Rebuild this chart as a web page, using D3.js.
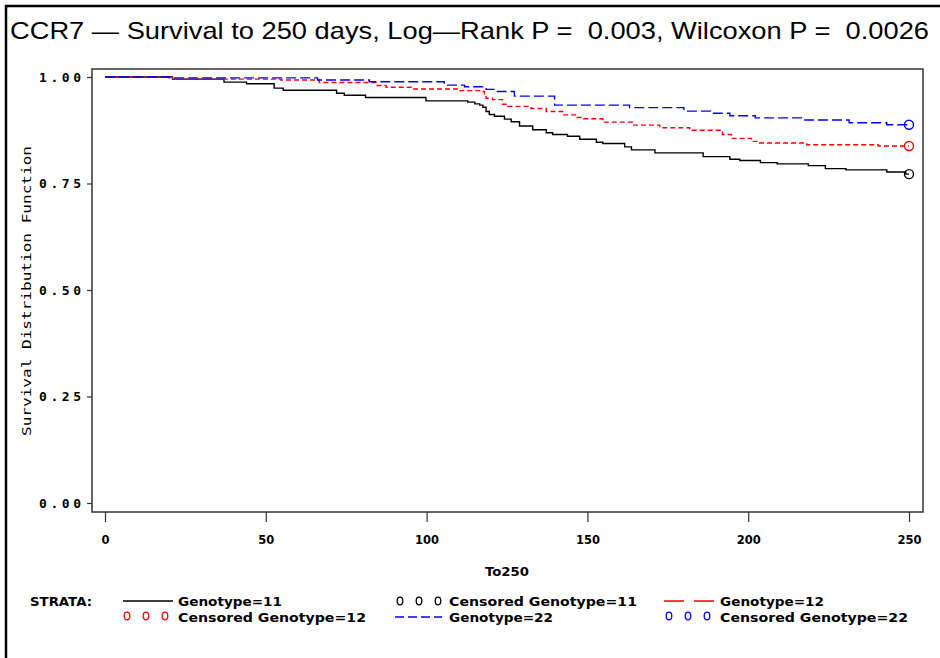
<!DOCTYPE html>
<html>
<head>
<meta charset="utf-8">
<script src="https://cdn.jsdelivr.net/npm/d3@7"></script>
<style>
  body { margin: 0; background: #fff; }
</style>
</head>
<body>
<script>
// survival curves (time in days, survival prob)
var geno11Time = [0, 21, 37, 44, 52.6, 55.4, 72, 74.4, 81, 99.8, 112.8, 115, 116.5, 117.5, 118.5, 119.5, 121.1, 124.2, 126.3, 128.9, 133, 137.2, 139.2, 143.8, 147.6, 152.8, 154.8, 161.6, 163.7, 171, 186, 194.3, 197.4, 203.8, 209, 218.7, 224, 230.4, 243.1, 249, 250];
var geno11Surv = [1, 0.995, 0.988, 0.984, 0.974, 0.969, 0.962, 0.957, 0.952, 0.944, 0.941, 0.937, 0.934, 0.929, 0.919, 0.912, 0.908, 0.901, 0.895, 0.885, 0.876, 0.869, 0.865, 0.861, 0.854, 0.847, 0.844, 0.836, 0.829, 0.822, 0.813, 0.807, 0.804, 0.799, 0.796, 0.792, 0.785, 0.782, 0.777, 0.772, 0.772];

var geno12Time = [0, 21, 54.7, 66.6, 84.3, 87.4, 95.6, 109.6, 117, 118, 118.5, 120.5, 123.6, 125.2, 132.5, 137.2, 142.3, 146.5, 148.1, 154.8, 164.1, 172.5, 181.8, 192, 194.8, 201, 202.7, 218.2, 240.4, 250];
var geno12Surv = [1, 0.995, 0.993, 0.987, 0.980, 0.976, 0.972, 0.968, 0.966, 0.958, 0.950, 0.947, 0.936, 0.931, 0.926, 0.919, 0.911, 0.905, 0.902, 0.894, 0.887, 0.881, 0.875, 0.865, 0.856, 0.849, 0.845, 0.841, 0.838, 0.838];

var geno22Time = [0, 20, 66.1, 82.2, 105.5, 111.8, 118.5, 122, 127.3, 139.8, 163.1, 180, 188.4, 194.3, 202.2, 217.6, 231.4, 243.1, 250];
var geno22Surv = [1, 0.998, 0.993, 0.989, 0.981, 0.977, 0.971, 0.966, 0.955, 0.934, 0.928, 0.920, 0.915, 0.909, 0.904, 0.899, 0.8925, 0.888, 0.888];

// censored points (only at the end of follow-up)
var censorTime = [250, 250, 250];
var censorSurv = [0.772, 0.838, 0.888];

var xTicks = [0, 50, 100, 150, 200, 250];
var yTicks = [0, 0.25, 0.5, 0.75, 1];

var title = "CCR7 \u2014 Survival to 250 days, Log\u2014Rank P =  0.003, Wilcoxon P =  0.0026";

var width = 940, height = 658;
var frame = {left: 92, right: 923, top: 69, bottom: 512};

const svg = d3.select("body")
    .append("svg")
    .attr("width", width)
    .attr("height", height);

// outer border (left + top)
svg.append("path")
    .attr("d", "M6,658 L6,6 L940,6")
    .attr("fill", "none")
    .attr("stroke", "#000")
    .attr("stroke-width", 2.5);

svg.append("text")
    .attr("x", 10)
    .attr("y", 39)
    .attr("font-family", "Liberation Sans, Arial, sans-serif")
    .attr("font-size", 24)
    .attr("textLength", 919)
    .attr("lengthAdjust", "spacingAndGlyphs")
    .style("white-space", "pre")
    .text(title);

var x = d3.scaleLinear().domain([0, 250]).range([105, 909]);
var y = d3.scaleLinear().domain([0, 1]).range([503, 77]);

// plot frame
svg.append("rect")
    .attr("x", frame.left)
    .attr("y", frame.top)
    .attr("width", frame.right - frame.left)
    .attr("height", frame.bottom - frame.top)
    .attr("fill", "none")
    .attr("stroke", "#333")
    .attr("stroke-width", 1.5);

// y-axis
svg.append("g")
    .attr("transform", `translate(${frame.left},0)`)
    .call(d3.axisLeft(y).tickValues(yTicks).tickFormat(d3.format(".2f")).tickSize(5).tickPadding(6))
    .call(g => g.select(".domain").remove())
    .call(g => g.selectAll("line").attr("stroke", "#333").attr("stroke-width", 1.2))
    .call(g => g.selectAll("text")
        .attr("font-family", "DejaVu Sans Mono, monospace")
        .attr("font-weight", "bold")
        .attr("font-size", 13)
        .attr("textLength", 42)
        .attr("lengthAdjust", "spacing")
        .attr("fill", "#000"));

// x-axis
svg.append("g")
    .attr("transform", `translate(0,${frame.bottom})`)
    .call(d3.axisBottom(x).tickValues(xTicks).tickFormat(d3.format("d")).tickSize(10).tickPadding(13))
    .call(g => g.select(".domain").remove())
    .call(g => g.selectAll("line").attr("stroke", "#333").attr("stroke-width", 1.2))
    .call(g => g.selectAll("text")
        .attr("font-family", "DejaVu Sans, sans-serif")
        .attr("font-weight", "bold")
        .attr("font-size", 13)
        .attr("textLength", d => String(d).length * 8)
        .attr("lengthAdjust", "spacingAndGlyphs")
        .attr("fill", "#000"));

svg.append("text")
    .attr("x", 507)
    .attr("y", 576)
    .attr("text-anchor", "middle")
    .attr("font-family", "DejaVu Sans, sans-serif")
    .attr("font-weight", "bold")
    .attr("font-size", 13)
    .attr("textLength", 44)
    .attr("lengthAdjust", "spacingAndGlyphs")
    .text("To250");

svg.append("text")
    .attr("transform", "translate(31,291) rotate(-90)")
    .attr("text-anchor", "middle")
    .attr("font-family", "DejaVu Sans Mono, monospace")
    .attr("font-size", 12)
    .attr("textLength", 290)
    .attr("lengthAdjust", "spacingAndGlyphs")
    .text("Survival Distribution Function");

// curves
var series = [
    {name: "Genotype=11", t: geno11Time, s: geno11Surv, color: "#000", dash: null, width: 1.4},
    {name: "Genotype=12", t: geno12Time, s: geno12Surv, color: "#ff0000", dash: "5,3", width: 1.4},
    {name: "Genotype=22", t: geno22Time, s: geno22Surv, color: "#0000ff", dash: "10,4", width: 1.4}
];

var line = d3.line()
    .x(d => x(d[0]))
    .y(d => y(d[1]))
    .curve(d3.curveStepAfter);

series.forEach(function(sr, i) {
    var pts = sr.t.map((t, j) => [t, sr.s[j]]);
    svg.append("path")
        .datum(pts)
        .attr("fill", "none")
        .attr("stroke", sr.color)
        .attr("stroke-width", sr.width)
        .attr("stroke-dasharray", sr.dash)
        .attr("d", line);
    svg.append("circle")
        .attr("cx", x(censorTime[i]))
        .attr("cy", y(censorSurv[i]))
        .attr("r", 4.5)
        .attr("fill", "none")
        .attr("stroke", sr.color)
        .attr("stroke-width", 1.4);
});

// legend
function legText(tx, ty, str, len) {
    svg.append("text")
        .attr("x", tx)
        .attr("y", ty)
        .attr("font-family", "DejaVu Sans, sans-serif")
        .attr("font-weight", "bold")
        .attr("font-size", 13)
        .attr("textLength", len)
        .attr("lengthAdjust", "spacingAndGlyphs")
        .text(str);
}
function legLine(x0, x1, ly, color, dash) {
    svg.append("line")
        .attr("x1", x0).attr("x2", x1)
        .attr("y1", ly).attr("y2", ly)
        .attr("stroke", color)
        .attr("stroke-width", 1.4)
        .attr("stroke-dasharray", dash);
}
function legCircles(x0, ly, color) {
    [0, 19, 38].forEach(function(dx) {
        svg.append("ellipse")
            .attr("cx", x0 + dx)
            .attr("cy", ly)
            .attr("rx", 2.8)
            .attr("ry", 3.8)
            .attr("fill", "none")
            .attr("stroke", color)
            .attr("stroke-width", 1.3);
    });
}

var row1 = 606, row2 = 622;
legText(30, row1, "STRATA:", 62);

legLine(123, 173, row1 - 5, "#000", null);
legText(178, row1, "Genotype=11", 104);

legCircles(400, row1 - 5, "#000");
legText(449, row1, "Censored Genotype=11", 188);

legLine(664, 714, row1 - 5, "#ff0000", "20,10");
legText(720, row1, "Genotype=12", 104);

legCircles(127, row2 - 6, "#ff0000");
legText(178, row2, "Censored Genotype=12", 188);

legLine(395, 442, row2 - 5, "#0000ff", "9,4");
legText(449, row2, "Genotype=22", 104);

legCircles(669, row2 - 6, "#0000ff");
legText(720, row2, "Censored Genotype=22", 188);
</script>
</body>
</html>
